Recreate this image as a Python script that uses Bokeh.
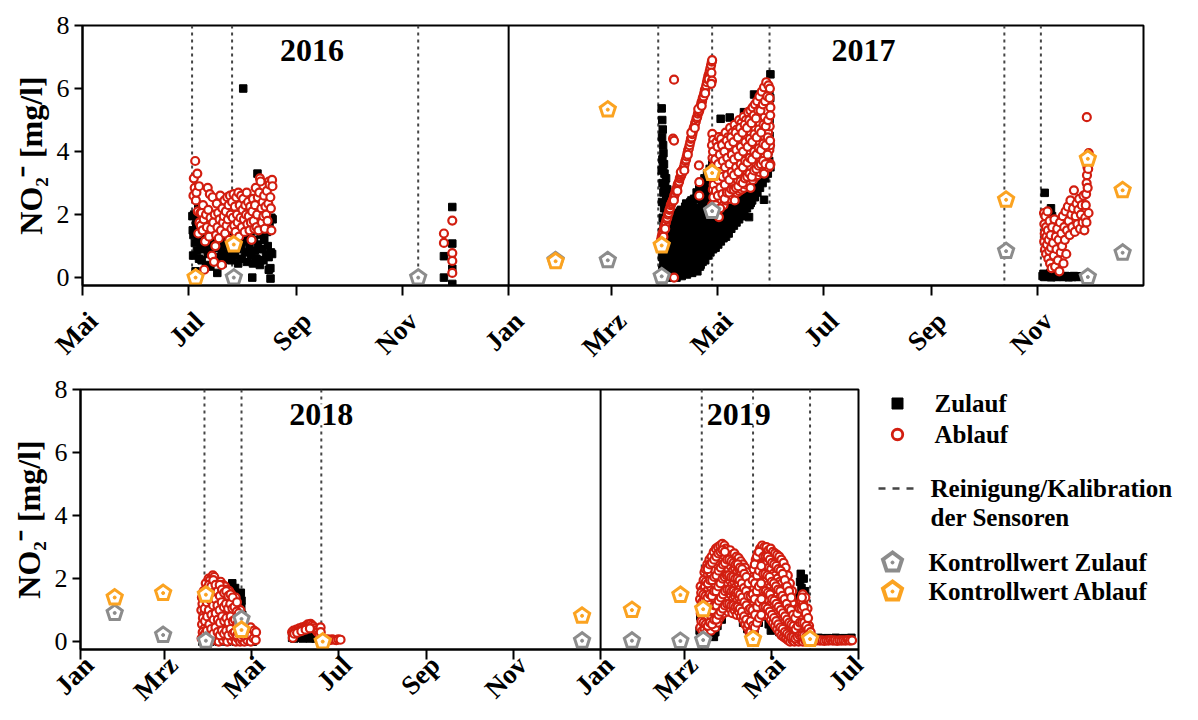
import math
import pandas as pd
from bokeh.plotting import figure
from bokeh.layouts import column, row
from bokeh.models import FixedTicker, Span, Label, Range1d
from bokeh.core.properties import value
from bokeh.embed import file_html
from bokeh.resources import INLINE

# ---------------------------------------------------------------------------
# Sensor readings: (day of year counted from 1 January = 0, NO2- in mg/l)
# ---------------------------------------------------------------------------
ZULAUF_2016 = [
    (184.2, 1.95), (184.4, 1.5), (184.6, 0.7), (184.8, 1.35), (185.2, 2.0), (185.6, 1.1), (186.0, 0.2),
    (186.4, 1.7), (186.8, 0.85), (187.2, 1.25), (187.6, 2.2), (188.0, 0.6), (188.5, 1.5), (189.0, 1.0),
    (189.5, 0.55), (190.0, 1.85), (190.5, 1.2), (191.0, 0.9), (191.5, 1.6), (192.0, 0.4), (192.5, 1.35),
    (193.0, 0.75), (193.5, 1.95), (194.0, 1.05), (194.5, 0.35), (195.0, 1.45), (195.5, 0.8), (196.0, 1.7),
    (196.5, 1.15), (197.0, 0.5), (197.5, 1.3), (198.0, 0.95), (198.5, 0.15), (199.0, 1.55), (199.5, 0.65),
    (200.0, 1.25), (200.5, 1.9), (201.0, 0.85), (201.5, 0.45), (202.0, 1.4), (202.5, 1.05), (203.0, 0.6),
    (203.5, 1.6), (204.0, 1.2), (204.5, 0.75), (205.0, 2.55), (205.5, 1.35), (206.0, 0.95), (206.5, 0.55),
    (207.0, 1.5), (207.5, 1.1), (208.0, 2.6), (208.5, 0.7), (209.0, 1.3), (209.5, 1.75), (210.0, 0.9),
    (210.5, 0.45), (211.0, 1.45), (212.0, 1.0), (212.5, 0.6), (213.0, 1.55), (213.4, 6.0), (213.5, 2.3),
    (214.0, 1.15), (214.5, 0.8), (215.0, 1.4), (215.5, 0.5), (216.0, 1.65), (217.0, 0.95), (217.5, 1.3),
    (218.0, 0.7), (218.5, 1.85), (218.6, 0.0), (219.0, 0.45), (219.5, 1.2), (220.0, 0.85), (220.5, 1.5),
    (221.0, 0.6), (221.6, 3.3), (222.0, 1.05), (222.5, 1.7), (223.0, 0.4), (223.5, 1.35), (224.0, 0.9),
    (224.5, 1.6), (225.0, 0.55), (225.5, 1.2), (226.0, 2.0), (226.5, 0.75), (227.0, 1.45), (227.5, 1.0),
    (228.0, 0.65), (228.1, 0.25), (228.5, 1.75), (229.0, 0.3), (229.1, -0.03), (229.3, 0.8), (229.6, 1.9),
    (230.0, 0.75), (230.3, 1.85),
    (328.8, 0.0), (328.8, 0.68), (333.6, 2.24), (333.6, 1.08), (333.6, 0.28), (333.6, -0.2),
]

ABLAUF_2016 = [
    (184.8, 2.6), (185.0, 3.15), (185.5, 2.85), (185.8, 3.7), (186.2, 2.45), (186.5, 2.7), (187.0, 3.3),
    (187.3, 2.1), (187.6, 1.4), (188.0, 2.9), (188.3, 1.75), (188.7, 2.05), (189.0, 1.65), (189.5, 2.05),
    (190.0, 1.5), (190.3, 2.3), (190.7, 1.85), (191.0, 0.25), (191.5, 1.15), (192.0, 2.0), (192.5, 1.6),
    (193.0, 2.85), (193.3, 2.15), (193.8, 1.3), (194.2, 2.65), (194.6, 1.9), (195.0, 1.55), (195.4, 0.7),
    (195.8, 2.55), (196.2, 1.75), (196.6, 0.5), (197.0, 2.0), (197.4, 1.0), (197.8, 1.35), (198.2, 2.35),
    (198.6, 1.6), (199.0, 2.05), (199.4, 1.25), (199.8, 1.85), (200.2, 2.6), (200.6, 1.5), (201.0, 0.4),
    (201.4, 2.2), (201.8, 1.75), (202.2, 1.95), (202.6, 2.45), (203.0, 1.4), (203.4, 2.1), (203.8, 1.65),
    (204.2, 2.55), (204.6, 1.85), (205.0, 2.3), (205.4, 1.2), (205.8, 2.6), (206.2, 2.0), (206.6, 1.55),
    (207.0, 2.4), (207.4, 1.9), (207.8, 2.65), (208.2, 1.65), (208.6, 2.25), (209.0, 1.45), (209.4, 2.55),
    (209.8, 2.0), (210.2, 1.75), (210.6, 2.7), (211.0, 1.3), (211.4, 2.3), (211.8, 1.9), (212.2, 2.6),
    (212.6, 1.6), (213.0, 2.15), (213.4, 2.5), (213.8, 1.85), (214.2, 1.45), (214.6, 2.3), (215.0, 2.0),
    (215.4, 2.7), (215.8, 1.7), (216.2, 2.4), (216.6, 1.95), (217.0, 1.5), (217.4, 2.25), (217.8, 1.75),
    (218.2, 1.2), (218.6, 2.1), (219.0, 2.5), (219.4, 1.8), (219.8, 1.55), (220.2, 2.3), (220.6, 2.85),
    (221.0, 1.6), (221.4, 2.0), (221.8, 2.55), (222.2, 1.5), (222.6, 2.7), (223.0, 3.15), (223.4, 3.05),
    (223.8, 2.2), (224.2, 1.75), (224.6, 2.4), (225.0, 1.95), (225.4, 2.6), (225.8, 1.55), (226.2, 2.25),
    (226.6, 2.0), (227.0, 2.75), (227.4, 1.8), (227.8, 2.35), (228.2, 3.05), (228.6, 2.95), (229.0, 2.55),
    (229.3, 2.2), (229.6, 1.5), (230.0, 3.1), (230.2, 2.9),
    (328.8, 1.4), (328.8, 1.1), (333.6, 1.81), (333.6, 0.78), (333.6, 0.53), (333.6, 0.15),
]

ZULAUF_2017 = [
    # end of March: sharp drop after cleaning
    (88.0, 5.37), (88.3, 5.0), (88.6, 4.7), (88.2, 4.45), (88.8, 4.2), (89.0, 3.95), (88.4, 3.75),
    (89.3, 3.6), (88.0, 3.4), (89.6, 3.3), (90.5, 3.15), (88.5, 3.0), (90.0, 2.95), (91.2, 2.8),
    (89.0, 2.7), (92.0, 2.6), (90.6, 2.5), (88.2, 2.4), (91.8, 2.35), (93.0, 2.2), (89.4, 2.2),
    (90.8, 2.05), (92.5, 1.95), (88.6, 1.9), (93.8, 1.85), (91.4, 1.75), (89.8, 1.6), (92.9, 1.5),
    (94.2, 1.55), (88.3, 1.45), (90.9, 1.35), (93.5, 1.25), (89.2, 1.15), (92.0, 1.1), (88.5, 0.95),
    (89.5, 0.8), (88.2, 0.65), (90.2, 0.55), (89.0, 0.4), (88.4, 0.25), (89.8, 0.15), (88.9, 0.05),
    (88.7, 3.5), (89.3, 2.9), (90.3, 2.7), (91.0, 2.45), (89.7, 2.35), (90.4, 1.85), (91.6, 1.55),
    (92.4, 1.7), (93.2, 1.65), (90.6, 1.05), (91.3, 0.65), (90.8, 0.3), (89.2, 0.5), (88.7, 1.25),
    (89.1, 1.75),
    # April / May: rising drift
    (92.0, 0.05), (92.3, 0.45), (91.8, 0.9), (92.2, 1.35),
    (93.5, 0.0), (93.8, 0.3), (93.3, 0.75), (93.6, 1.2), (93.9, 1.7),
    (95.0, 0.1), (95.3, 0.55), (94.8, 1.0), (95.2, 1.5), (95.5, 1.95),
    (96.5, 0.0), (96.8, 0.4), (96.3, 0.85), (96.6, 1.3), (96.9, 1.8),
    (98.0, 0.15), (98.3, 0.6), (97.8, 1.1), (98.2, 1.6), (98.5, 2.1),
    (99.5, 0.05), (99.8, 0.5), (99.3, 0.95), (99.6, 1.45), (99.9, 1.95),
    (101.0, 0.2), (101.3, 0.7), (100.8, 1.2), (101.2, 1.7), (101.5, 2.25),
    (102.5, 0.1), (102.8, 0.55), (102.3, 1.05), (102.6, 1.55), (102.9, 2.05),
    (104.0, 0.25), (104.3, 0.75), (103.8, 1.3), (104.2, 1.85), (104.5, 2.4),
    (105.5, 0.15), (105.8, 0.6), (105.3, 1.15), (105.6, 1.7), (105.9, 2.3),
    (107.0, 0.3), (107.3, 0.85), (106.8, 1.4), (107.2, 1.95), (107.5, 2.5),
    (108.5, 0.2), (108.8, 0.7), (108.3, 1.25), (108.6, 1.8), (108.9, 2.6),
    (110.0, 0.35), (110.3, 0.95), (109.8, 1.5), (110.2, 2.05), (110.5, 2.75), (110.4, 0.41),
    (111.5, 0.5), (111.8, 1.1), (111.3, 1.65), (111.6, 2.2), (111.9, 2.9),
    (113.0, 0.55), (113.3, 1.05), (112.8, 1.6), (113.2, 2.35), (113.5, 3.05),
    (114.5, 0.7), (114.8, 1.3), (114.3, 1.9), (114.6, 2.5), (114.9, 3.2),
    (116.0, 0.8), (116.3, 1.4), (115.8, 2.0), (116.2, 2.65), (116.5, 3.35),
    (117.5, 0.9), (117.8, 1.5), (117.3, 2.15), (117.6, 2.8), (117.9, 3.5),
    (119.0, 0.95), (119.3, 1.6), (118.8, 2.25), (119.2, 2.9), (119.6, 4.19),
    (120.5, 1.05), (120.8, 1.7), (120.3, 2.4), (120.6, 3.1),
    (122.0, 1.15), (122.3, 1.8), (121.8, 2.5), (122.2, 3.2), (121.9, 5.04),
    (123.5, 1.25), (123.8, 1.9), (123.3, 2.6), (123.6, 3.35),
    (125.0, 1.3), (125.3, 1.95), (124.8, 2.7), (125.2, 3.5),
    (126.5, 1.4), (126.8, 2.1), (126.3, 2.8), (126.6, 3.6), (127.1, 5.08),
    (128.0, 1.55), (128.3, 2.2), (127.8, 2.95), (128.2, 3.7),
    (129.5, 1.65), (129.8, 2.3), (129.3, 3.05), (129.6, 3.85),
    (131.0, 1.75), (131.3, 2.45), (130.8, 3.2), (131.2, 3.95),
    (132.5, 1.85), (132.8, 2.55), (132.3, 3.3), (132.6, 4.1),
    (134.0, 1.95), (134.3, 2.65), (133.8, 3.4), (134.2, 4.2),
    (135.5, 2.05), (135.8, 2.8), (135.3, 3.55), (135.6, 4.35), (135.3, 5.25),
    (137.0, 2.2), (137.3, 2.9), (136.8, 3.65), (137.2, 4.5),
    (138.5, 2.3), (138.8, 3.05), (138.3, 3.8), (138.6, 4.6), (138.2, 1.92),
    (140.0, 2.45), (140.3, 3.15), (139.8, 3.95), (140.2, 4.75), (139.2, 2.37),
    (141.5, 2.55), (141.8, 3.3), (141.3, 4.05), (141.6, 4.9), (141.1, 5.81),
    (143.0, 2.7), (143.3, 3.4), (142.8, 4.2), (143.2, 5.0), (143.4, 3.05),
    (144.5, 2.85), (144.8, 3.55), (144.3, 4.35), (144.6, 5.15),
    (146.0, 3.0), (146.3, 3.7), (145.8, 4.5), (146.2, 5.3), (146.8, 2.47), (146.5, 5.55),
    (147.5, 3.15), (147.8, 3.85), (147.3, 4.65), (147.6, 5.45), (147.9, 5.85),
    (149.0, 3.3), (149.3, 4.0), (148.8, 4.8), (149.2, 5.6),
    (150.5, 3.5), (150.3, 4.2), (150.0, 5.0), (150.4, 5.7), (150.5, 6.45),
    (92.8, 0.25), (93.0, 0.65), (92.6, 1.1), (92.9, 1.55),
    (94.2, 0.2), (94.4, 0.6), (94.0, 1.05), (94.3, 1.45), (94.6, 1.85),
    (95.8, 0.3), (96.0, 0.75), (95.6, 1.2), (95.9, 1.65), (96.1, 2.05),
    (97.3, 0.2), (97.5, 0.65), (97.1, 1.05), (97.4, 1.5), (97.6, 1.95),
    (98.8, 0.35), (99.0, 0.8), (98.6, 1.3), (98.9, 1.8), (99.1, 2.15),
    (100.2, 0.3), (100.5, 0.75), (100.0, 1.2), (100.4, 1.65), (100.6, 2.1),
    (101.8, 0.45), (102.0, 0.9), (101.6, 1.4), (101.9, 1.9), (102.1, 2.35),
    (103.2, 0.35), (103.5, 0.8), (103.0, 1.25), (103.4, 1.75), (103.6, 2.2),
    (104.8, 0.5), (105.0, 1.0), (104.6, 1.5), (104.9, 2.05), (105.1, 2.45),
    (106.2, 0.4), (106.5, 0.9), (106.0, 1.45), (106.4, 1.95), (106.6, 2.5),
    (107.8, 0.55), (108.0, 1.1), (107.6, 1.65), (107.9, 2.2), (108.1, 2.7),
    (109.2, 0.45), (109.5, 1.0), (109.0, 1.55), (109.4, 2.1), (109.6, 2.85),
    (110.8, 0.65), (111.0, 1.25), (110.6, 1.8), (110.9, 2.4), (111.1, 3.0),
    (112.2, 0.8), (112.5, 1.35), (112.0, 1.9), (112.4, 2.55), (112.6, 3.15),
    (113.8, 0.95), (114.0, 1.55), (113.6, 2.15), (113.9, 2.75), (114.1, 3.3),
    (115.2, 1.0), (115.5, 1.65), (115.0, 2.25), (115.4, 2.9), (115.6, 3.45),
    (116.8, 1.1), (117.0, 1.75), (116.6, 2.4), (116.9, 3.05), (117.1, 3.6),
    (118.2, 1.2), (118.5, 1.9), (118.0, 2.55), (118.4, 3.2), (118.6, 3.7),
    (119.8, 1.3), (120.0, 2.0), (119.6, 2.7), (119.9, 3.4),
    (121.2, 1.4), (121.5, 2.1), (121.0, 2.8), (121.4, 3.5),
    (122.8, 1.5), (123.0, 2.2), (122.6, 2.9), (122.9, 3.6),
    (124.2, 1.6), (124.5, 2.3), (124.0, 3.0), (124.4, 3.75),
    (125.8, 1.7), (126.0, 2.4), (125.6, 3.15), (125.9, 3.85),
    (127.2, 1.8), (127.5, 2.55), (127.0, 3.3), (127.4, 3.95),
    (128.8, 1.9), (129.0, 2.65), (128.6, 3.4), (128.9, 4.1),
    (130.2, 2.0), (130.5, 2.75), (130.0, 3.55), (130.4, 4.2),
    (131.8, 2.1), (132.0, 2.9), (131.6, 3.65), (131.9, 4.35),
    (133.2, 2.25), (133.5, 3.0), (133.0, 3.75), (133.4, 4.45),
    (134.8, 2.35), (135.0, 3.1), (134.6, 3.9), (134.9, 4.6),
    (136.2, 2.45), (136.5, 3.25), (136.0, 4.0), (136.4, 4.7),
    (137.8, 2.6), (138.0, 3.35), (137.6, 4.15), (137.9, 4.85),
    (139.2, 2.7), (139.5, 3.5), (139.0, 4.3), (139.4, 5.0),
    (140.8, 2.85), (141.0, 3.6), (140.6, 4.4), (140.9, 5.1),
    (142.2, 2.95), (142.5, 3.75), (142.0, 4.55), (142.4, 5.25),
    (143.8, 3.1), (144.0, 3.9), (143.6, 4.7), (143.9, 5.4),
    (145.2, 3.25), (145.5, 4.05), (145.0, 4.85), (145.4, 5.5),
    (146.8, 3.4), (147.0, 4.2), (146.6, 5.0), (146.9, 5.65),
    (148.2, 3.55), (148.5, 4.35), (148.0, 5.15), (148.4, 5.8),
    (149.8, 3.7), (150.0, 4.5), (149.6, 5.3), (149.9, 5.95),
    # November
    (308.2, 2.69), (311.8, 2.2), (312.4, 1.95), (312.0, 1.7), (312.6, 1.45), (311.9, 1.2), (312.8, 0.95),
    (312.2, 0.7), (313.0, 0.45), (313.4, 0.3), (313.8, 0.2), (314.2, 0.35),
    (307.0, 0.05), (307.5, 0.12), (308.0, 0.02), (309.0, 0.06), (309.5, 0.1), (310.0, 0.03), (311.0, 0.05),
    (311.5, 0.14), (312.0, 0.01), (313.0, 0.04), (313.5, 0.1), (314.0, 0.06), (315.0, 0.02), (316.0, 0.05),
    (317.0, 0.03), (318.0, 0.04), (319.0, 0.02), (320.0, 0.05), (321.0, 0.03), (322.0, 0.01), (323.0, 0.04),
    (324.0, 0.02), (325.0, 0.05), (326.0, 0.03), (327.0, 0.02), (328.0, 0.04), (329.0, 0.03),
]

ABLAUF_2017 = [
    # linear rise after the March cleaning
    (87.6, 1.2), (88.0, 1.3), (88.4, 1.4), (88.8, 1.45), (89.2, 1.55), (89.6, 1.6), (90.0, 1.7),
    (90.4, 1.75), (90.8, 1.85), (91.2, 1.9), (91.6, 2.0), (92.0, 2.05), (92.4, 2.15), (92.8, 2.2),
    (93.2, 2.3), (93.6, 2.35), (94.0, 2.4), (94.4, 2.45), (94.8, 2.5), (95.2, 2.6), (95.6, 2.65),
    (96.0, 2.75), (96.4, 2.8), (96.8, 2.85), (97.2, 2.95), (97.6, 3.0), (98.0, 3.05), (98.4, 3.15),
    (98.8, 3.2), (99.2, 3.25), (99.6, 3.3), (100.0, 3.4), (100.4, 3.45), (100.8, 3.5), (101.2, 3.6),
    (101.6, 3.7), (102.0, 3.75), (102.4, 3.85), (102.8, 3.95), (103.2, 4.05), (103.6, 4.1), (104.0, 4.2),
    (104.4, 4.3), (104.8, 4.4), (105.2, 4.45), (105.6, 4.55), (106.0, 4.65), (106.4, 4.75), (106.8, 4.8),
    (107.2, 4.9), (107.6, 4.95), (108.0, 5.05), (108.4, 5.1), (108.8, 5.2), (109.2, 5.25), (109.6, 5.3),
    (110.0, 5.4), (110.4, 5.45), (110.8, 5.55), (111.2, 5.6), (111.6, 5.7), (112.0, 5.75), (112.4, 5.85),
    (112.8, 5.95), (113.2, 6.0), (113.6, 6.1), (114.0, 6.2), (114.4, 6.3), (114.8, 6.4), (115.2, 6.45),
    (115.6, 6.55), (116.0, 6.65), (116.4, 6.75), (116.8, 6.85), (117.0, 6.9),
    (88.2, 1.15), (89.0, 1.3), (90.0, 1.55), (95.0, 2.45), (97.0, 2.75), (99.0, 3.35), (101.0, 3.4),
    (103.0, 3.9), (105.0, 4.6), (107.0, 4.75), (109.0, 5.35), (111.0, 5.45), (113.0, 5.85), (115.0, 6.3),
    (116.6, 6.5), (116.9, 6.25), (116.5, 6.15),
    (95.1, 6.28), (94.5, 4.41), (95.1, 4.35), (95.1, 0.0), (109.4, 3.56), (109.6, 3.03), (109.6, 2.6),
    (117.1, 4.56), (117.6, 4.37), (121.3, 4.46), (118.0, 2.29),
    # May cloud
    (117.0, 2.3), (117.4, 2.8), (116.8, 3.3), (117.2, 3.8), (116.9, 4.2),
    (118.3, 2.05), (118.7, 2.55), (118.0, 3.05), (118.5, 3.55), (118.2, 4.0),
    (119.6, 2.35), (120.0, 2.9), (119.3, 3.4), (119.8, 3.9), (119.5, 4.3),
    (120.9, 1.92), (121.3, 2.6), (120.6, 3.15), (121.1, 3.65), (120.8, 4.46),
    (122.2, 2.4), (122.6, 2.95), (121.9, 3.5), (122.4, 4.0), (122.1, 4.4),
    (123.5, 2.3), (123.9, 2.7), (123.2, 3.25), (123.7, 3.75), (123.4, 4.25),
    (124.8, 2.45), (125.2, 3.0), (124.5, 3.55), (125.0, 4.1), (124.7, 4.6),
    (126.1, 2.55), (126.5, 2.85), (125.8, 3.35), (126.3, 3.9), (126.0, 4.45),
    (127.4, 2.5), (127.8, 3.1), (127.1, 3.65), (127.6, 4.2), (127.3, 4.75),
    (128.7, 2.6), (129.1, 3.0), (128.4, 3.5), (128.9, 4.0), (128.6, 4.6),
    (130.0, 2.45), (130.4, 3.2), (129.7, 3.8), (130.2, 4.35), (129.9, 4.85),
    (131.3, 2.7), (131.7, 3.1), (131.0, 3.6), (131.5, 4.15), (131.2, 4.7),
    (132.6, 2.75), (133.0, 3.35), (132.3, 3.9), (132.8, 4.45), (132.5, 5.0),
    (133.9, 2.8), (134.3, 3.25), (133.6, 3.75), (134.1, 4.3), (133.8, 4.9),
    (135.2, 2.85), (135.6, 3.45), (134.9, 4.0), (135.4, 4.6), (135.1, 5.1),
    (136.5, 2.95), (136.9, 3.4), (136.2, 3.9), (136.7, 4.45), (136.4, 5.0),
    (137.8, 3.0), (138.2, 3.55), (137.5, 4.1), (138.0, 4.7), (137.7, 5.25),
    (139.1, 2.85), (139.5, 3.5), (138.8, 4.0), (139.3, 4.55), (139.0, 5.3),
    (140.4, 3.1), (140.8, 3.7), (140.1, 4.25), (140.6, 4.85), (140.3, 5.4),
    (141.7, 3.2), (142.1, 3.65), (141.4, 4.15), (141.9, 4.7), (141.6, 5.5),
    (143.0, 3.25), (143.4, 3.85), (142.7, 4.4), (143.2, 5.0), (142.9, 5.6),
    (144.3, 3.35), (144.7, 3.8), (144.0, 4.3), (144.5, 4.9), (144.2, 5.75),
    (145.6, 3.45), (146.0, 4.0), (145.3, 4.55), (145.8, 5.15), (145.5, 5.9),
    (146.9, 3.3), (147.3, 3.9), (146.6, 4.5), (147.1, 5.1), (146.8, 6.04),
    (148.2, 3.6), (148.6, 4.15), (147.9, 4.7), (148.4, 5.3), (148.1, 6.2),
    (149.5, 3.5), (149.9, 4.05), (149.2, 4.6), (149.7, 5.5), (149.4, 6.1),
    (150.5, 3.6), (150.3, 4.2), (150.1, 4.8), (150.5, 5.4), (150.2, 6.0),
    (117.7, 2.55), (118.0, 3.55), (117.5, 4.0), (117.9, 2.95),
    (119.0, 2.3), (119.2, 3.3), (118.8, 3.75), (119.1, 2.75),
    (120.3, 2.6), (120.5, 3.6), (120.1, 4.15), (120.4, 3.1),
    (121.6, 2.2), (121.8, 3.35), (121.4, 3.9), (121.7, 2.85),
    (122.9, 2.65), (123.1, 3.7), (122.7, 4.2), (123.0, 3.2),
    (124.2, 2.5), (124.4, 3.5), (124.0, 4.0), (124.3, 2.95),
    (125.5, 2.7), (125.7, 3.8), (125.3, 4.35), (125.6, 3.25),
    (126.8, 2.7), (127.0, 3.6), (126.6, 4.2), (126.9, 3.1),
    (128.1, 2.8), (128.3, 3.9), (127.9, 4.45), (128.2, 3.35),
    (129.4, 2.8), (129.6, 3.75), (129.2, 4.3), (129.5, 3.25),
    (130.7, 2.85), (130.9, 4.05), (130.5, 4.6), (130.8, 3.5),
    (132.0, 2.9), (132.2, 3.85), (131.8, 4.45), (132.1, 3.35),
    (133.3, 3.05), (133.5, 4.15), (133.1, 4.75), (133.4, 3.6),
    (134.6, 3.0), (134.8, 4.0), (134.4, 4.6), (134.7, 3.5),
    (135.9, 3.15), (136.1, 4.3), (135.7, 4.85), (136.0, 3.7),
    (137.2, 3.2), (137.4, 4.15), (137.0, 4.75), (137.3, 3.65),
    (138.5, 3.3), (138.7, 4.4), (138.3, 5.0), (138.6, 3.8),
    (139.8, 3.2), (140.0, 4.3), (139.6, 4.9), (139.9, 3.75),
    (141.1, 3.4), (141.3, 4.55), (140.9, 5.15), (141.2, 4.0),
    (142.4, 3.45), (142.6, 4.45), (142.2, 5.05), (142.5, 3.9),
    (143.7, 3.55), (143.9, 4.7), (143.5, 5.3), (143.8, 4.1),
    (145.0, 3.6), (145.2, 4.6), (144.8, 5.3), (145.1, 4.05),
    (146.3, 3.7), (146.5, 4.85), (146.1, 5.5), (146.4, 4.25),
    (147.6, 3.6), (147.8, 4.8), (147.4, 5.6), (147.7, 4.2),
    (148.9, 3.9), (149.1, 5.0), (148.7, 5.75), (149.0, 4.45),
    (150.2, 3.55), (150.4, 5.15), (150.0, 5.7), (150.3, 4.35),
    # November
    (307.8, 2.05), (308.0, 1.7), (308.2, 1.4), (307.9, 1.15), (308.4, 0.9), (308.6, 1.95), (309.0, 1.6),
    (309.2, 1.3), (309.0, 0.75), (309.5, 1.05), (309.8, 2.1), (310.0, 1.5), (310.3, 0.6), (310.5, 1.2),
    (310.8, 0.85), (311.0, 1.8), (311.3, 0.45), (311.6, 1.35), (311.9, 0.95), (312.2, 0.3),
    (312.5, 1.6), (313.0, 1.1), (313.4, 0.7), (313.8, 1.85), (314.2, 0.35), (314.6, 1.3), (315.0, 0.9),
    (315.4, 1.55), (315.8, 0.55), (316.2, 1.2), (316.6, 0.2), (317.0, 1.75), (317.4, 0.8), (317.8, 1.4),
    (318.2, 1.0), (318.6, 1.95), (319.0, 0.45), (319.4, 1.6), (319.8, 1.2), (320.2, 2.1), (320.6, 0.75),
    (321.0, 1.5), (321.5, 2.25), (322.0, 1.8), (322.5, 1.35), (323.0, 2.45), (323.5, 2.0), (324.0, 1.6),
    (324.5, 2.2), (325.0, 2.77), (325.5, 1.45), (326.0, 1.95), (326.5, 2.35), (327.0, 1.7), (327.5, 2.15),
    (328.0, 2.5), (328.5, 1.55), (329.0, 2.0), (329.5, 2.3), (330.0, 1.75), (330.5, 2.6),
    (331.0, 1.5), (331.5, 1.9), (331.8, 2.3), (332.0, 2.65), (332.3, 3.0), (332.5, 3.25), (332.8, 3.5),
    (333.0, 3.7), (333.2, 3.45), (333.5, 3.95), (332.9, 2.85), (333.4, 2.05), (332.2, 1.75), (332.4, 5.09),
]

ZULAUF_2018 = [
    (85.5, 0.0), (88.0, 0.02), (91.0, 0.0), (94.0, 0.03), (97.0, 0.0), (100.0, 0.02), (103.0, 0.0),
    (106.0, 0.03), (109.0, 0.0), (112.0, 0.02), (115.0, 0.0), (118.0, 0.03), (121.0, 0.0),
    (106.5, 1.85), (107.0, 1.6), (107.5, 1.35), (108.0, 1.1), (107.8, 0.8), (108.5, 1.7),
    (112.5, 1.55), (113.0, 1.3), (112.8, 1.1), (113.5, 0.85), (113.2, 0.55), (112.0, 0.3), (114.0, 0.15),
    (148.5, 0.12), (150.0, 0.1), (151.5, 0.14), (153.0, 0.12), (154.5, 0.15), (156.0, 0.1), (157.5, 0.13),
    (159.0, 0.16), (160.5, 0.2), (161.0, 0.1), (162.0, 0.25), (163.5, 0.12), (165.0, 0.1), (166.5, 0.14),
    (168.0, 0.1), (170.0, 0.05),
]

ABLAUF_2018 = [
    (85.0, 0.1), (85.3, 0.55), (84.8, 1.0), (85.2, 1.4),
    (86.5, 0.05), (86.8, 0.4), (86.3, 0.85), (86.7, 1.25), (86.4, 1.6),
    (88.0, 0.15), (88.3, 0.6), (87.8, 1.05), (88.2, 1.5), (87.9, 1.85),
    (89.5, 0.0), (89.8, 0.35), (89.3, 0.8), (89.7, 1.2), (89.4, 1.65), (89.9, 2.0),
    (91.0, 0.2), (91.3, 0.65), (90.8, 1.1), (91.2, 1.55), (90.9, 1.95),
    (92.5, 0.05), (92.8, 0.45), (92.3, 0.9), (92.7, 1.35), (92.4, 1.8), (92.9, 2.1),
    (94.0, 0.25), (94.3, 0.7), (93.8, 1.15), (94.2, 1.6), (93.9, 2.05),
    (95.5, 0.1), (95.8, 0.5), (95.3, 0.95), (95.7, 1.4), (95.4, 1.85),
    (97.0, 0.0), (97.3, 0.4), (96.8, 0.8), (97.2, 1.25), (96.9, 1.7),
    (98.5, 0.2), (98.8, 0.6), (98.3, 1.05), (98.7, 1.5), (98.4, 1.9),
    (100.0, 0.05), (100.3, 0.45), (99.8, 0.9), (100.2, 1.35), (99.9, 1.8),
    (101.5, 0.15), (101.8, 0.55), (101.3, 1.0), (101.7, 1.45), (101.4, 1.75),
    (103.0, 0.0), (103.3, 0.4), (102.8, 0.85), (103.2, 1.3), (102.9, 1.65),
    (104.5, 0.2), (104.8, 0.6), (104.3, 1.0), (104.7, 1.4), (104.4, 1.6),
    (106.0, 0.05), (106.3, 0.45), (105.8, 0.85), (106.2, 1.25), (105.9, 1.5),
    (107.5, 0.15), (107.8, 0.5), (107.3, 0.9), (107.7, 1.3),
    (109.0, 0.0), (109.3, 0.35), (108.8, 0.75), (109.2, 1.15), (108.9, 1.4),
    (110.5, 0.1), (110.8, 0.45), (110.3, 0.8), (110.7, 1.05),
    (112.0, 0.0), (112.3, 0.3), (111.8, 0.65), (112.2, 1.0),
    (113.5, 0.05), (113.8, 0.4), (113.3, 0.7),
    (115.0, 0.0), (115.3, 0.2), (114.8, 0.5),
    (117.0, 0.05), (117.3, 0.3),
    (119.5, 0.0), (119.8, 0.2), (119.4, 0.45),
    (121.5, 0.1), (121.8, 0.35),
    (123.0, 0.05), (123.2, 0.3),
    (85.75, 0.3), (85.9, 0.75), (85.6, 1.2),
    (87.25, 0.25), (87.4, 0.65), (87.1, 1.05), (87.3, 1.45),
    (88.75, 0.35), (88.9, 0.8), (88.6, 1.25), (88.8, 1.7),
    (90.25, 0.15), (90.4, 0.55), (90.1, 1.0), (90.3, 1.4), (90.2, 1.8),
    (91.75, 0.4), (91.9, 0.85), (91.6, 1.3), (91.8, 1.75),
    (93.25, 0.25), (93.4, 0.7), (93.1, 1.15), (93.3, 1.55), (93.2, 1.95),
    (94.75, 0.45), (94.9, 0.9), (94.6, 1.35), (94.8, 1.8),
    (96.25, 0.3), (96.4, 0.7), (96.1, 1.15), (96.3, 1.6),
    (97.75, 0.2), (97.9, 0.6), (97.6, 1.0), (97.8, 1.45), (97.7, 1.8),
    (99.25, 0.35), (99.4, 0.8), (99.1, 1.25), (99.3, 1.65),
    (100.75, 0.25), (100.9, 0.65), (100.6, 1.1), (100.8, 1.55),
    (102.25, 0.35), (102.4, 0.75), (102.1, 1.2), (102.3, 1.6),
    (103.75, 0.2), (103.9, 0.6), (103.6, 1.05), (103.8, 1.45),
    (105.25, 0.4), (105.4, 0.8), (105.1, 1.2), (105.3, 1.5),
    (106.75, 0.25), (106.9, 0.65), (106.6, 1.05), (106.8, 1.4),
    (108.25, 0.3), (108.4, 0.7), (108.1, 1.1),
    (109.75, 0.2), (109.9, 0.55), (109.6, 0.95), (109.8, 1.25),
    (111.25, 0.25), (111.4, 0.6), (111.1, 0.9),
    (112.75, 0.15), (112.9, 0.5), (112.6, 0.8),
    (114.25, 0.2), (114.4, 0.55),
    (148.5, 0.3), (149.5, 0.35), (150.5, 0.32), (151.5, 0.38), (152.5, 0.36), (153.5, 0.42), (154.5, 0.4),
    (155.5, 0.45), (156.5, 0.43), (157.5, 0.48), (158.5, 0.5), (159.5, 0.55), (160.5, 0.53), (161.5, 0.56),
    (162.5, 0.52), (163.5, 0.48), (164.5, 0.42), (165.5, 0.36), (166.5, 0.3), (167.5, 0.25), (168.5, 0.45),
    (168.6, 0.3), (149.0, 0.12), (150.0, 0.25), (152.0, 0.28), (155.0, 0.33), (158.0, 0.38), (161.0, 0.42),
    (170.5, 0.08), (172.0, 0.06), (173.5, 0.07), (175.0, 0.05), (176.5, 0.07), (178.0, 0.06), (179.5, 0.05),
    (181.0, 0.07), (182.5, 0.06),
]

ZULAUF_2019 = [
    (69.5, 0.35), (70.0, 0.8), (70.5, 1.25), (71.0, 0.55), (71.5, 1.0), (72.0, 1.4), (76.0, 2.35),
    (77.0, 2.1), (78.0, 2.45), (78.5, 0.25), (79.5, 0.15), (80.5, 0.3), (82.0, 0.5), (85.0, 0.7),
    (88.0, 0.95), (92.0, 1.1), (96.0, 0.9), (100.0, 0.6), (103.0, 0.4), (105.0, 0.2), (106.5, 0.05),
    (108.0, 0.3), (111.0, 0.6), (114.0, 0.8), (116.5, 0.95), (118.0, 0.55), (119.5, 0.35), (121.0, 0.8),
    (122.5, 0.4), (124.0, 0.65), (125.5, 0.3), (127.0, 0.5), (128.5, 0.2), (130.0, 0.3), (131.5, 0.15),
    (133.0, 0.25), (134.5, 0.1), (136.0, 0.2), (137.5, 0.15), (138.5, 0.6), (139.0, 1.0), (139.5, 1.45),
    (140.0, 1.9), (140.5, 2.15), (141.0, 1.7), (141.5, 1.25), (142.0, 0.85), (142.5, 2.0), (143.0, 0.5),
    (143.5, 1.6), (144.0, 1.05), (144.5, 0.3), (145.0, 0.15), (146.0, 0.1), (147.0, 0.12), (148.0, 0.1),
    (150.0, 0.1), (153.0, 0.12), (156.0, 0.1), (159.0, 0.11), (162.0, 0.1), (165.0, 0.12), (168.0, 0.1),
    (171.0, 0.11), (174.0, 0.1), (176.0, 0.12),
]

ABLAUF_2019 = [
    (70.0, 0.45), (70.3, 0.9), (69.8, 1.35), (70.2, 1.75),
    (71.5, 0.35), (71.8, 0.8), (71.3, 1.25), (71.7, 1.65),
    (73.0, 0.4), (73.3, 0.85), (72.8, 1.3), (73.2, 1.75), (72.9, 2.2),
    (74.5, 0.3), (74.8, 0.75), (74.3, 1.2), (74.7, 1.6), (74.4, 2.05), (74.9, 2.45),
    (76.0, 0.45), (76.3, 0.9), (75.8, 1.35), (76.2, 1.8), (75.9, 2.25), (76.4, 2.6),
    (77.5, 0.35), (77.8, 0.8), (77.3, 1.25), (77.7, 1.7), (77.4, 2.15), (77.9, 2.7),
    (79.0, 0.5), (79.3, 0.95), (78.8, 1.4), (79.2, 1.85), (78.9, 2.3), (79.4, 2.85),
    (80.5, 0.45), (80.8, 0.9), (80.3, 1.35), (80.7, 1.8), (80.4, 2.25), (80.9, 2.95),
    (82.0, 0.6), (82.3, 1.05), (81.8, 1.5), (82.2, 1.95), (81.9, 2.45), (82.4, 3.0),
    (83.5, 0.75), (83.8, 1.2), (83.3, 1.65), (83.7, 2.1), (83.4, 2.55), (83.9, 3.05),
    (85.0, 0.85), (85.3, 1.3), (84.8, 1.75), (85.2, 2.2), (84.9, 2.65), (85.4, 3.1),
    (86.5, 0.9), (86.8, 1.35), (86.3, 1.8), (86.7, 2.3), (86.4, 2.75), (86.9, 3.05),
    (88.0, 1.0), (88.3, 1.45), (87.8, 1.9), (88.2, 2.35), (87.9, 2.95),
    (89.5, 0.95), (89.8, 1.4), (89.3, 1.85), (89.7, 2.3), (89.4, 2.85),
    (91.0, 1.05), (91.3, 1.5), (90.8, 1.95), (91.2, 2.4), (90.9, 2.9),
    (92.5, 0.9), (92.8, 1.35), (92.3, 1.8), (92.7, 2.25), (92.4, 2.75),
    (94.0, 1.0), (94.3, 1.45), (93.8, 1.9), (94.2, 2.35), (93.9, 2.8),
    (95.5, 0.85), (95.8, 1.3), (95.3, 1.75), (95.7, 2.2), (95.4, 2.7),
    (97.0, 0.95), (97.3, 1.4), (96.8, 1.85), (97.2, 2.3), (96.9, 2.65),
    (98.5, 0.8), (98.8, 1.25), (98.3, 1.7), (98.7, 2.15), (98.4, 2.55),
    (100.0, 0.7), (100.3, 1.15), (99.8, 1.6), (100.2, 2.05), (99.9, 2.45),
    (101.5, 0.55), (101.8, 1.0), (101.3, 1.45), (101.7, 1.9), (101.4, 2.35),
    (103.0, 0.45), (103.3, 0.9), (102.8, 1.35), (103.2, 1.8), (102.9, 2.2),
    (104.5, 0.3), (104.8, 0.7), (104.3, 1.15), (104.7, 1.6), (104.4, 1.95),
    (106.0, 0.1), (106.3, 0.45), (105.8, 0.85), (106.2, 1.25), (105.9, 1.6),
    (107.5, 0.25), (107.8, 0.7), (107.3, 1.2), (107.7, 1.7), (107.4, 2.3),
    (109.0, 0.55), (109.3, 1.0), (108.8, 1.5), (109.2, 2.0), (108.9, 2.6),
    (110.5, 0.7), (110.8, 1.15), (110.3, 1.65), (110.7, 2.15), (110.4, 2.8),
    (112.0, 0.8), (112.3, 1.3), (111.8, 1.8), (112.2, 2.3), (111.9, 2.95),
    (113.5, 0.9), (113.8, 1.4), (113.3, 1.9), (113.7, 2.45), (113.4, 3.05),
    (115.0, 0.85), (115.3, 1.35), (114.8, 1.85), (115.2, 2.4), (114.9, 3.0),
    (116.5, 0.95), (116.8, 1.45), (116.3, 1.95), (116.7, 2.5), (116.4, 3.0),
    (118.0, 0.8), (118.3, 1.3), (117.8, 1.8), (118.2, 2.35), (117.9, 2.9),
    (119.5, 0.7), (119.8, 1.2), (119.3, 1.75), (119.7, 2.3), (119.4, 2.95),
    (121.0, 0.6), (121.3, 1.1), (120.8, 1.6), (121.2, 2.15), (120.9, 2.85),
    (122.5, 0.5), (122.8, 1.0), (122.3, 1.55), (122.7, 2.1), (122.4, 2.8),
    (124.0, 0.4), (124.3, 0.9), (123.8, 1.45), (124.2, 2.0), (123.9, 2.75),
    (125.5, 0.3), (125.8, 0.8), (125.3, 1.35), (125.7, 1.9), (125.4, 2.7),
    (127.0, 0.2), (127.3, 0.7), (126.8, 1.25), (127.2, 1.85), (126.9, 2.6),
    (128.5, 0.15), (128.8, 0.6), (128.3, 1.15), (128.7, 1.7), (128.4, 2.5),
    (130.0, 0.1), (130.3, 0.5), (129.8, 1.0), (130.2, 1.55), (129.9, 2.35),
    (131.5, 0.05), (131.8, 0.45), (131.3, 0.9), (131.7, 1.4), (131.4, 2.1),
    (133.0, 0.0), (133.3, 0.4), (132.8, 0.8), (133.2, 1.3), (132.9, 1.85),
    (134.5, 0.05), (134.8, 0.35), (134.3, 0.75), (134.7, 1.2), (134.4, 1.6),
    (136.0, 0.0), (136.3, 0.3), (135.8, 0.65), (136.2, 1.0),
    (137.5, 0.05), (137.8, 0.25), (137.3, 0.55), (137.7, 0.85),
    (139.0, 0.0), (139.3, 0.3), (138.8, 0.7), (139.2, 1.1),
    (140.5, 0.05), (140.8, 0.4), (140.3, 0.85), (140.7, 1.3),
    (142.0, 0.0), (142.3, 0.35), (141.8, 0.8), (142.2, 1.25), (141.9, 1.5),
    (143.5, 0.05), (143.8, 0.45), (143.3, 0.9), (143.7, 1.4),
    (145.0, 0.0), (145.3, 0.3), (144.8, 0.7), (145.2, 1.05),
    (146.5, 0.05), (146.8, 0.25), (146.3, 0.5),
    (148.0, 0.0), (148.3, 0.15),
    (70.75, 0.65), (70.9, 1.1), (70.6, 1.55),
    (72.25, 0.6), (72.4, 1.05), (72.1, 1.5), (72.3, 1.95),
    (73.75, 0.55), (73.9, 1.0), (73.6, 1.45), (73.8, 1.9), (73.7, 2.3),
    (75.25, 0.5), (75.4, 0.95), (75.1, 1.4), (75.3, 1.85), (75.2, 2.3),
    (76.75, 0.6), (76.9, 1.05), (76.6, 1.5), (76.8, 1.95), (76.7, 2.45),
    (78.25, 0.55), (78.4, 1.0), (78.1, 1.45), (78.3, 1.95), (78.2, 2.5),
    (79.75, 0.7), (79.9, 1.15), (79.6, 1.6), (79.8, 2.05), (79.7, 2.6),
    (81.25, 0.7), (81.4, 1.15), (81.1, 1.6), (81.3, 2.1), (81.2, 2.7),
    (82.75, 0.85), (82.9, 1.3), (82.6, 1.75), (82.8, 2.25), (82.7, 2.8),
    (84.25, 0.95), (84.4, 1.4), (84.1, 1.85), (84.3, 2.35), (84.2, 2.85),
    (85.75, 1.05), (85.9, 1.5), (85.6, 2.0), (85.8, 2.45), (85.7, 2.9),
    (87.25, 1.15), (87.4, 1.6), (87.1, 2.05), (87.3, 2.5), (87.2, 2.85),
    (88.75, 1.2), (88.9, 1.65), (88.6, 2.1), (88.8, 2.6),
    (90.25, 1.2), (90.4, 1.65), (90.1, 2.1), (90.3, 2.6),
    (91.75, 1.15), (91.9, 1.6), (91.6, 2.05), (91.8, 2.55),
    (93.25, 1.15), (93.4, 1.6), (93.1, 2.05), (93.3, 2.5),
    (94.75, 1.1), (94.9, 1.55), (94.6, 2.0), (94.8, 2.45),
    (96.25, 1.1), (96.4, 1.55), (96.1, 2.0), (96.3, 2.45),
    (97.75, 1.05), (97.9, 1.5), (97.6, 1.95), (97.8, 2.35),
    (99.25, 0.95), (99.4, 1.4), (99.1, 1.85), (99.3, 2.3),
    (100.75, 0.8), (100.9, 1.25), (100.6, 1.7), (100.8, 2.15),
    (102.25, 0.7), (102.4, 1.15), (102.1, 1.6), (102.3, 2.05),
    (103.75, 0.55), (103.9, 1.0), (103.6, 1.45), (103.8, 1.85),
    (105.25, 0.3), (105.4, 0.65), (105.1, 1.05), (105.3, 1.45),
    (106.75, 0.2), (106.9, 0.5), (106.6, 1.0), (106.8, 1.5), (106.7, 1.95),
    (108.25, 0.45), (108.4, 0.85), (108.1, 1.35), (108.3, 1.85), (108.2, 2.45),
    (109.75, 0.6), (109.9, 1.1), (109.6, 1.6), (109.8, 2.1), (109.7, 2.7),
    (111.25, 0.75), (111.4, 1.25), (111.1, 1.75), (111.3, 2.25), (111.2, 2.85),
    (112.75, 0.85), (112.9, 1.35), (112.6, 1.85), (112.8, 2.4),
    (114.25, 1.1), (114.4, 1.6), (114.1, 2.15), (114.3, 2.7),
    (115.75, 1.1), (115.9, 1.6), (115.6, 2.15), (115.8, 2.7),
    (117.25, 1.05), (117.4, 1.55), (117.1, 2.1), (117.3, 2.7),
    (118.75, 0.95), (118.9, 1.5), (118.6, 2.05), (118.8, 2.6),
    (120.25, 0.85), (120.4, 1.35), (120.1, 1.9), (120.3, 2.5),
    (121.75, 0.75), (121.9, 1.3), (121.6, 1.85), (121.8, 2.45),
    (123.25, 0.65), (123.4, 1.2), (123.1, 1.75), (123.3, 2.4),
    (124.75, 0.55), (124.9, 1.1), (124.6, 1.65), (124.8, 2.3),
    (126.25, 0.45), (126.4, 1.0), (126.1, 1.6), (126.3, 2.25),
    (127.75, 0.4), (127.9, 0.9), (127.6, 1.45), (127.8, 2.15),
    (129.25, 0.3), (129.4, 0.8), (129.1, 1.35), (129.3, 1.95),
    (130.75, 0.25), (130.9, 0.7), (130.6, 1.2), (130.8, 1.75),
    (132.25, 0.2), (132.4, 0.6), (132.1, 1.05), (132.3, 1.6),
    (133.75, 0.15), (133.9, 0.55), (133.6, 1.0), (133.8, 1.4),
    (135.25, 0.15), (135.4, 0.5), (135.1, 0.85),
    (136.75, 0.1), (136.9, 0.4), (136.6, 0.75),
    (138.25, 0.15), (138.4, 0.5), (138.1, 0.9),
    (139.75, 0.2), (139.9, 0.6), (139.6, 1.05),
    (141.25, 0.2), (141.4, 0.6), (141.1, 1.05), (141.3, 1.4),
    (142.75, 0.2), (142.9, 0.6), (142.6, 1.1),
    (144.25, 0.15), (144.4, 0.5), (144.1, 0.9),
    (145.75, 0.1), (145.9, 0.4), (145.6, 0.75),
    (147.25, 0.05), (147.4, 0.3),
    (149.5, 0.04), (151.0, 0.03), (152.5, 0.05), (154.0, 0.03), (155.5, 0.04), (157.0, 0.02), (158.5, 0.04),
    (160.0, 0.03), (161.5, 0.05), (163.0, 0.03), (164.5, 0.04), (166.0, 0.02), (167.5, 0.04), (169.0, 0.03),
    (170.5, 0.04), (172.0, 0.03), (173.5, 0.05), (175.0, 0.03), (176.5, 0.04),
]

SENSOR_ZULAUF = {2016: ZULAUF_2016, 2017: ZULAUF_2017, 2018: ZULAUF_2018, 2019: ZULAUF_2019}
SENSOR_ABLAUF = {2016: ABLAUF_2016, 2017: ABLAUF_2017, 2018: ABLAUF_2018, 2019: ABLAUF_2019}

# Laboratory control values (date, mg/l)
KONTROLLE_ZULAUF = [
    ("2016-07-27", 0.0), ("2016-11-10", 0.0),
    ("2017-01-28", 0.55), ("2017-02-27", 0.55), ("2017-03-30", 0.04), ("2017-04-28", 2.11),
    ("2017-10-14", 0.84), ("2017-11-30", 0.02), ("2017-12-20", 0.79),
    ("2018-01-25", 0.91), ("2018-02-28", 0.21), ("2018-03-30", 0.03), ("2018-04-24", 0.72),
    ("2018-12-19", 0.03),
    ("2019-01-23", 0.03), ("2019-02-26", 0.02), ("2019-03-14", 0.05),
]
KONTROLLE_ABLAUF = [
    ("2016-07-05", 0.0), ("2016-07-27", 1.05),
    ("2017-01-28", 0.52), ("2017-02-27", 5.33), ("2017-03-30", 1.02), ("2017-04-28", 3.32),
    ("2017-10-14", 2.47), ("2017-11-30", 3.77), ("2017-12-20", 2.77),
    ("2018-01-25", 1.40), ("2018-02-28", 1.54), ("2018-03-30", 1.49), ("2018-04-24", 0.37),
    ("2018-06-20", 0.0), ("2018-12-19", 0.82),
    ("2019-01-23", 1.0), ("2019-02-26", 1.48), ("2019-03-14", 1.03), ("2019-04-18", 0.08),
    ("2019-05-28", 0.08),
]

# Sensor cleaning / calibration dates
REINIGUNG = [
    "2016-07-03", "2016-07-26", "2016-11-10",
    "2017-03-28", "2017-04-28", "2017-05-31", "2017-10-13", "2017-11-03",
    "2018-03-29", "2018-04-24", "2018-06-19",
    "2019-03-13", "2019-04-18", "2019-05-28",
]

MONATE = {1: "Jan", 3: "Mrz", 5: "Mai", 7: "Jul", 9: "Sep", 11: "Nov"}
JAHRESTITEL = {2016: "2016-09-10", 2017: "2017-07-24", 2018: "2018-06-19", 2019: "2019-04-08"}

# ---------------------------------------------------------------------------
SERIF = "Liberation Serif"
C_ZU = "#000000"
C_AB = "#d21e10"
C_KZ = "#8c8c8c"
C_KA = "#fba321"
C_DOT = "#454545"
TOP_H = 375          # height of the upper panel; the lower row fills the rest of 720 px


def pentagons(p, xs, ys, color, r, lw, sx, sy):
    """Open upright pentagons with a small centre dot; r is the radius in px,
    sx / sy are the px-per-data-unit factors of the frame."""
    angs = [math.pi / 2 + k * 2 * math.pi / 5 for k in range(5)]
    pxs = [[x + r * math.cos(a) / sx for a in angs] for x in xs]
    pys = [[y + r * math.sin(a) / sy for a in angs] for y in ys]
    p.patches(pxs, pys, fill_color="white", line_color=color, line_width=lw, line_join="miter")
    p.scatter(x=xs, y=ys, marker="circle", size=3, color=color)


def panel(origin, start, end, years, tick_end, width, height, borders, label_shift, label_standoff):
    org = pd.Timestamp(origin)

    def dx(date):
        return (pd.Timestamp(date) - org).days

    x0, x1 = dx(start), dx(end)
    bl, br, bt, bb = borders
    p = figure(width=width, height=height, x_range=Range1d(x0, x1), y_range=Range1d(-0.25, 8.0),
               output_backend="svg", toolbar_location=None,
               min_border_left=bl, min_border_right=br, min_border_top=bt, min_border_bottom=bb,
               background_fill_color="white", border_fill_color="white")
    p.grid.visible = False
    p.outline_line_color = "black"
    p.outline_line_width = 2

    # x axis: tick marks on the month starts (minor ticks), month names placed a
    # little to the right so the rotated text sits centred under its tick
    tick_dates = list(pd.date_range(start, tick_end, freq="2MS"))
    marks, label_pos, overrides = [], [], {}
    for t in tick_dates:
        m = dx(t)
        pos = m + label_shift if m + label_shift <= x1 else m
        marks.append(m)
        label_pos.append(pos)
        overrides[pos] = MONATE[t.month]
    p.xaxis.ticker = FixedTicker(ticks=label_pos, minor_ticks=marks)
    p.xaxis.major_label_overrides = overrides
    p.xaxis.major_label_orientation = math.pi / 4
    p.xaxis.major_label_text_font = SERIF
    p.xaxis.major_label_text_font_style = "bold"
    p.xaxis.major_label_text_font_size = "27px"
    p.xaxis.major_label_text_color = "black"
    p.xaxis.major_label_standoff = label_standoff
    p.xaxis.major_tick_line_color = None
    p.xaxis.major_tick_out = 10
    p.xaxis.major_tick_in = 0
    p.xaxis.minor_tick_line_color = "black"
    p.xaxis.minor_tick_line_width = 2
    p.xaxis.minor_tick_out = 10
    p.xaxis.minor_tick_in = 0

    # y axis
    p.yaxis.ticker = FixedTicker(ticks=[0, 2, 4, 6, 8])
    p.yaxis.major_label_text_font = SERIF
    p.yaxis.major_label_text_font_size = "26px"
    p.yaxis.major_label_text_color = "black"
    p.yaxis.major_label_standoff = 5
    p.yaxis.axis_label = "NO\u2082\u207b [mg/l]"
    p.yaxis.axis_label_text_font = SERIF
    p.yaxis.axis_label_text_font_style = "bold"
    p.yaxis.axis_label_text_font_size = "32px"
    p.yaxis.axis_label_text_color = "black"
    p.yaxis.axis_label_standoff = 5
    p.yaxis.major_tick_line_color = "black"
    p.yaxis.major_tick_line_width = 2
    p.yaxis.major_tick_out = 8
    p.yaxis.major_tick_in = 0
    p.yaxis.minor_tick_out = 0
    p.yaxis.minor_tick_in = 0
    for ax in (p.xaxis, p.yaxis):
        ax.axis_line_color = "black"
        ax.axis_line_width = 2

    # cleaning / calibration lines
    for d in REINIGUNG:
        x = dx(d)
        if x0 < x < x1:
            p.add_layout(Span(location=x, dimension="height", line_color=C_DOT, line_width=2,
                              line_dash="3 4", level="underlay"))
    # year boundary
    p.add_layout(Span(location=dx(f"{years[1]}-01-01"), dimension="height",
                      line_color="black", line_width=2))

    # sensor readings
    zx, zy, ax_, ay = [], [], [], []
    for yr in years:
        base = dx(f"{yr}-01-01")
        zx += [base + d for d, _ in SENSOR_ZULAUF[yr]]
        zy += [v for _, v in SENSOR_ZULAUF[yr]]
        ax_ += [base + d for d, _ in SENSOR_ABLAUF[yr]]
        ay += [v for _, v in SENSOR_ABLAUF[yr]]
    p.scatter(zx, zy, marker="square", size=7.5, color=C_ZU)
    p.scatter(ax_, ay, marker="circle", size=8, fill_color="white", line_color=C_AB, line_width=2.2)

    # control values
    sx = (width - bl - br) / (x1 - x0)
    sy = (height - bt - bb) / 8.25
    for data, color in ((KONTROLLE_ZULAUF, C_KZ), (KONTROLLE_ABLAUF, C_KA)):
        pts = [(dx(d), v) for d, v in data if x0 <= dx(d) <= x1]
        pentagons(p, [a for a, _ in pts], [b for _, b in pts], color, 8, 3, sx, sy)

    # year titles
    for yr in years:
        p.add_layout(Label(x=dx(JAHRESTITEL[yr]), y=7.2, text=str(yr), text_font=SERIF,
                           text_font_style="bold", text_font_size="32px", text_align="center",
                           text_baseline="middle", text_color="black",
                           background_fill_color="white"))
    return p


BOTTOM_H = 720 - TOP_H
top = panel("2016-01-01", "2016-05-01", "2018-01-01", [2016, 2017], "2017-11-01",
            1198, TOP_H, (82, 55, 25, TOP_H - 285), 6, 21)
bottom = panel("2018-01-01", "2018-01-01", "2019-07-01", [2018, 2019], "2019-07-01",
               876, BOTTOM_H, (80, 18, 389 - TOP_H, 71), 6, 1)

# ---------------------------------------------------------------------------
# Legend panel: 1 data unit = 1 px, y = 720 - (vertical position on the page)
LW = 322
leg = figure(width=LW, height=BOTTOM_H, x_range=Range1d(0, LW), y_range=Range1d(71, 331),
             output_backend="svg", toolbar_location=None, x_axis_location=None, y_axis_location=None,
             min_border_left=0, min_border_right=0, min_border_top=389 - TOP_H, min_border_bottom=71,
             outline_line_color=None)
leg.grid.visible = False


def ly(page_y):
    return 720 - page_y


leg.scatter([21], [ly(403)], marker="square", size=11, color=C_ZU)
leg.scatter([21], [ly(434)], marker="circle", size=10.5, fill_color="white", line_color=C_AB, line_width=2.8)
leg.line([2, 42], [ly(488), ly(488)], line_color=C_DOT, line_width=2.5, line_dash="7 7")
pentagons(leg, [16], [ly(562)], C_KZ, 10, 4, 1, 1)
pentagons(leg, [16], [ly(591)], C_KA, 10, 4, 1, 1)
leg.text(x=[58, 58, 54, 54, 52, 52],
         y=[ly(403), ly(434), ly(488), ly(517), ly(562), ly(591)],
         text=["Zulauf", "Ablauf", "Reinigung/Kalibration", "der Sensoren",
               "Kontrollwert Zulauf", "Kontrollwert Ablauf"],
         text_font=value(SERIF), text_font_style="bold", text_font_size="25px",
         text_baseline="middle", text_color="black")

layout = column(top, row(bottom, leg))
open("out.html", "w").write(file_html(layout, INLINE))
